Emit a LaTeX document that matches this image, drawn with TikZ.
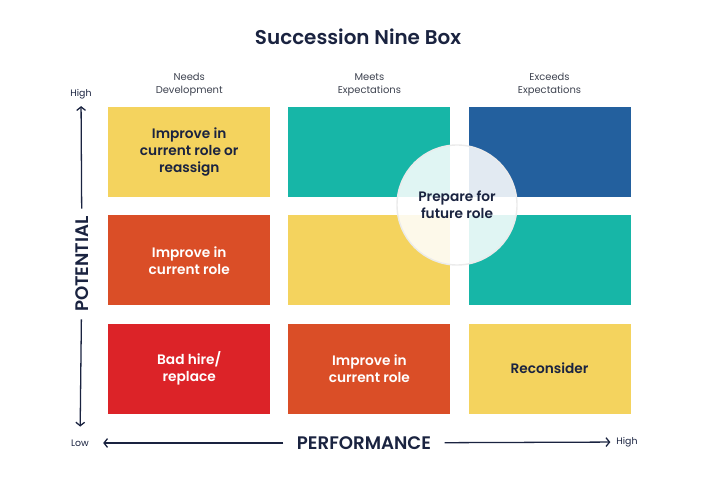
\documentclass[tikz,border=0pt]{standalone}
\usepackage{fontspec}
\setmainfont{Poppins}[BoldFont={Poppins SemiBold}]
\usetikzlibrary{arrows.meta, positioning}
\definecolor{boxYellow}{HTML}{F4D35E}
\definecolor{boxTeal}{HTML}{17B6A7}
\definecolor{boxBlue}{HTML}{23609E}
\definecolor{boxOrange}{HTML}{DA4E27}
\definecolor{boxRed}{HTML}{DC2328}
\definecolor{textNavy}{HTML}{1A2340}
\definecolor{textMuted}{HTML}{3E4350}

\begin{document}
\begin{tikzpicture}[x=0.03cm, y=-0.03cm,
    cell/.style={rectangle, minimum width=4.86cm, minimum height=2.7cm,
      inner sep=0pt, font=\fontsize{11.7}{14.5}\selectfont\bfseries,
      align=center, text=textNavy},
    head/.style={font=\fontsize{8.5}{11}\selectfont, text=textMuted, align=center},
    axislabel/.style={font=\fontsize{15.5}{17}\selectfont\bfseries, text=textNavy},
    endlabel/.style={font=\fontsize{8}{10}\selectfont, text=textNavy, inner sep=1pt},
    arr/.style={draw=textNavy, line width=1.1pt, -{Straight Barb[length=3pt, width=7.5pt]}},
    node distance=0.53cm
  ]
  \useasboundingbox (0,0) rectangle (703,484);

  \node[font=\fontsize{17}{20}\selectfont\bfseries, text=textNavy] (title) at (358,37) {Succession Nine Box};

  % grid of boxes
  \node[cell, fill=boxYellow, anchor=north west] (c11) at (108,107) {Improve in\\current role or\\reassign};
  \node[cell, fill=boxTeal, right=of c11] (c12) {};
  \node[cell, fill=boxBlue, right=of c12] (c13) {};
  \node[cell, fill=boxOrange, text=white, below=of c11] (c21) {Improve in\\current role};
  \node[cell, fill=boxYellow, right=of c21] (c22) {};
  \node[cell, fill=boxTeal, right=of c22] (c23) {};
  \node[cell, fill=boxRed, text=white, below=of c21] (c31) {Bad hire/\\replace};
  \node[cell, fill=boxOrange, text=white, right=of c31] (c32) {Improve in\\current role};
  \node[cell, fill=boxYellow, right=of c32] (c33) {Reconsider};

  \node[head, above=0.2cm of c11] (h1) {Needs\\Development};
  \node[head, above=0.2cm of c12] (h2) {Meets\\Expectations};
  \node[head, above=0.2cm of c13] (h3) {Exceeds\\Expectations};

  \node[circle, minimum size=3.6cm, fill=white, fill opacity=0.87, text opacity=1,
    draw=black!8, line width=1.2pt,
    font=\fontsize{11.7}{14.5}\selectfont\bfseries, text=textNavy, align=center]
    (prep) at (457,205) {Prepare for\\future role};

  % axes
  \node[axislabel, rotate=90] (pot) at (82,264) {POTENTIAL};
  \node[endlabel] (vhigh) at (81,94) {High};
  \node[endlabel] (vlow) at (80,443) {Low};
  \draw[arr, shorten <=3pt, shorten >=5pt] (pot) -- (vhigh);
  \draw[arr, shorten <=3pt, shorten >=10pt] (pot) -- (vlow);

  \node[axislabel] (perf) at (364,443) {PERFORMANCE};
  \node[endlabel] (hhigh) at (627,442) {High};
  \draw[arr, shorten <=8pt, shorten >=11pt] (perf) -- (vlow);
  \draw[arr, shorten <=8pt, shorten >=4pt] (perf) -- (hhigh);
\end{tikzpicture}
\end{document}
